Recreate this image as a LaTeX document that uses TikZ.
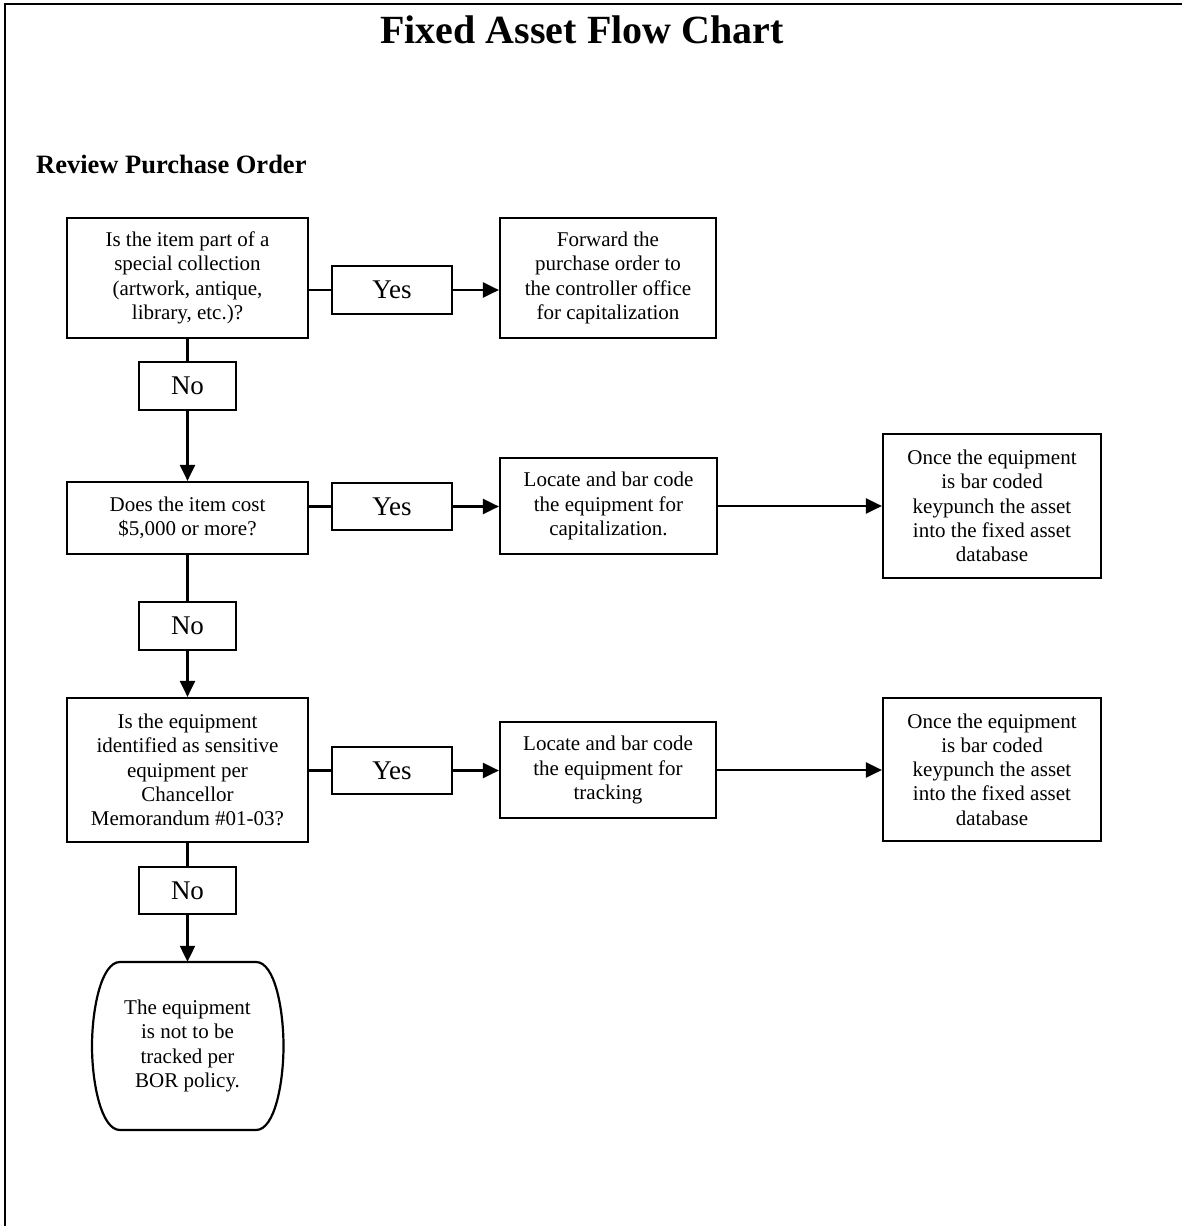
\documentclass[tikz,border=0pt]{standalone}
\usepackage{fontspec}
\setmainfont{Liberation Serif}
\usetikzlibrary{arrows.meta,calc}
\begin{document}
\begin{tikzpicture}[x=1pt,y=-1pt,
  box/.style={draw,line width=2.2pt,inner sep=0pt,align=center,font=\fontsize{21}{24.3}\selectfont},
  lbl/.style={draw,line width=2.2pt,inner sep=0pt,font=\fontsize{27}{30}\selectfont},
  link/.style={line width=2.2pt},
  arr/.style={line width=2.2pt,-{Triangle[length=16pt,width=15pt]}},
]
\useasboundingbox (0,0) rectangle (1182,1226);
\draw[line width=2.4pt] (5,1226) -- (5,4) -- (1182,4);

\node[font=\bfseries\fontsize{40}{44}\selectfont] (title) at (582,30) {Fixed Asset Flow Chart};
\node[anchor=base west,inner sep=0pt,font=\bfseries\fontsize{26.5}{30}\selectfont] (sub) at (36,173) {Review Purchase Order};

% row 1
\node[box,minimum width=241pt,minimum height=120pt] (q1) at (187.5,278) {Is the item part of a\\special collection\\(artwork, antique,\\library, etc.)?};
\node[lbl,minimum width=120pt,minimum height=48pt] (y1) at (392,290) {Yes};
\node[box,minimum width=216pt,minimum height=120pt] (fwd) at (608,278) {Forward the\\purchase order to\\the controller office\\for capitalization};
\node[lbl,minimum width=97pt,minimum height=48pt] (n1) at (187.5,386) {No};

% row 2
\node[box,minimum width=241pt,minimum height=72pt] (q2) at (187.5,518) {Does the item cost\\\$5,000 or more?};
\node[lbl,minimum width=120pt,minimum height=47pt] (y2) at (392,506.5) {Yes};
\node[box,minimum width=217pt,minimum height=96pt] (loc1) at (608.5,506) {Locate and bar code\\the equipment for\\capitalization.};
\node[box,minimum width=218pt,minimum height=144pt] (once1) at (992,506) {Once the equipment\\is bar coded\\keypunch the asset\\into the fixed asset\\database};
\node[lbl,minimum width=97pt,minimum height=48pt] (n2) at (187.5,626) {No};

% row 3
\node[box,minimum width=241pt,minimum height=144pt] (q3) at (187.5,770) {Is the equipment\\identified as sensitive\\equipment per\\Chancellor\\Memorandum \#01-03?};
\node[lbl,minimum width=120pt,minimum height=47pt] (y3) at (392,770.5) {Yes};
\node[box,minimum width=216pt,minimum height=96pt] (loc2) at (608,770) {Locate and bar code\\the equipment for\\tracking};
\node[box,minimum width=218pt,minimum height=143pt] (once2) at (992,769.5) {Once the equipment\\is bar coded\\keypunch the asset\\into the fixed asset\\database};
\node[lbl,minimum width=97pt,minimum height=47pt] (n3) at (187.5,890.5) {No};

% terminal
\node[inner sep=0pt,align=center,minimum width=192pt,minimum height=168pt,font=\fontsize{21}{24.3}\selectfont] (term) at (187.5,1046) {The equipment\\is not to be\\tracked per\\BOR policy.};
\draw[line width=2.2pt] (120,962) -- (256,962)
  .. controls (275,962) and (283.5,1010) .. (283.5,1046)
  .. controls (283.5,1082) and (275,1130) .. (256,1130)
  -- (120,1130)
  .. controls (101,1130) and (92,1082) .. (92,1046)
  .. controls (92,1010) and (101,962) .. (120,962) -- cycle;

% connectors
\draw[link] (q1.east |- y1.west) -- (y1.west);
\draw[arr] (y1.east) -- (y1.east -| fwd.west);
\draw[link] (q1.south) -- (n1.north);
\draw[arr] (n1.south) -- (q2.north);

\draw[link] (q2.east |- y2.west) -- (y2.west);
\draw[arr] (y2.east) -- (y2.east -| loc1.west);
\draw[arr] (loc1.east) -- (loc1.east -| once1.west);
\draw[link] (q2.south) -- (n2.north);
\draw[arr] (n2.south) -- (q3.north);

\draw[link] (q3.east |- y3.west) -- (y3.west);
\draw[arr] (y3.east) -- (y3.east -| loc2.west);
\draw[arr] (loc2.east) -- (loc2.east -| once2.west);
\draw[link] (q3.south) -- (n3.north);
\draw[arr] (n3.south) -- (term.north);
\end{tikzpicture}
\end{document}
